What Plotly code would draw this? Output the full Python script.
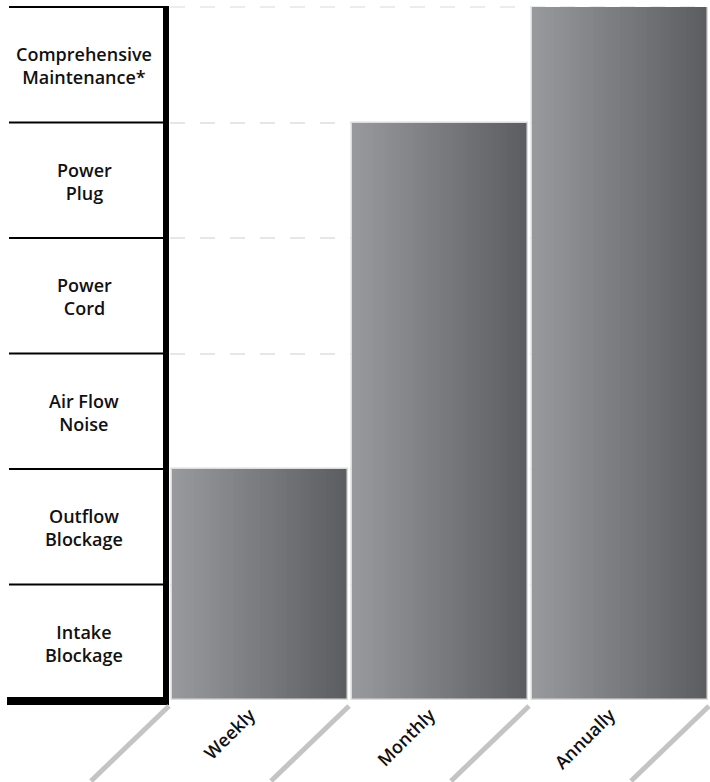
import plotly.graph_objects as go

# ---- data ----
frequencies = ["Weekly", "Monthly", "Annually"]
levels_reached = [2, 5, 6]
issue_labels = [
    "Intake<br>Blockage",
    "Outflow<br>Blockage",
    "Air Flow<br>Noise",
    "Power<br>Cord",
    "Power<br>Plug",
    "Comprehensive<br>Maintenance*",
]

FONT = "Open Sans"
WEIGHT = 600
N = 48
bar_w = 0.975
c_left = (152, 153, 157)
c_right = (92, 93, 97)

fig = go.Figure()
step = bar_w / N
for i in range(N):
    t = i / (N - 1)
    c = tuple(round(a + (b - a) * t) for a, b in zip(c_left, c_right))
    w = step if i == N - 1 else step * 1.6
    fig.add_trace(go.Bar(
        x=frequencies, y=levels_reached,
        width=w, offset=-bar_w / 2 + i * step,
        marker=dict(color="rgb(%d,%d,%d)" % c, line=dict(width=0)),
        hoverinfo="skip", showlegend=False,
    ))
# light border around each bar
fig.add_trace(go.Bar(
    x=frequencies, y=levels_reached, width=bar_w, offset=-bar_w / 2,
    marker=dict(color="rgba(0,0,0,0)", line=dict(color="#dcdcdc", width=1.5)),
    hoverinfo="skip", showlegend=False,
))

n_levels = len(issue_labels)
shapes = []
# dashed grid line at the top level (range edge is not drawn by the axis grid)
shapes.append(dict(type="line", xref="paper", x0=0, x1=1, yref="paper", y0=1, y1=1,
                   layer="below", line=dict(color="#e6e6e6", width=1.5, dash="15px,15px")))
# horizontal separators of the label column
for lv in range(n_levels + 1):
    shapes.append(dict(type="line", xref="paper", xsizemode="pixel", xanchor=0,
                       x0=-161, x1=-3, yref="paper", y0=lv / n_levels, y1=lv / n_levels,
                       line=dict(color="black", width=2)))
# thick vertical axis line
shapes.append(dict(type="line", xref="paper", xsizemode="pixel", xanchor=0,
                   x0=-4, x1=-4, yref="paper", ysizemode="pixel", yanchor=0,
                   y0=-1, y1=694, line=dict(color="black", width=6)))
# thick bottom line
shapes.append(dict(type="line", xref="paper", xsizemode="pixel", xanchor=0,
                   x0=-163, x1=-1, yref="paper", ysizemode="pixel", yanchor=0,
                   y0=-1, y1=-1, line=dict(color="black", width=8)))
# diagonal separators under the category axis
n_cat = len(frequencies)
for k in range(n_cat + 1):
    shapes.append(dict(type="line", xref="paper", xsizemode="pixel", xanchor=k / n_cat,
                       x0=-1, x1=-79, yref="paper", ysizemode="pixel", yanchor=0,
                       y0=-6, y1=-81, line=dict(color="#c4c4c4", width=5)))

annotations = []
for lv, lab in enumerate(issue_labels):
    annotations.append(dict(text=lab, xref="paper", x=0, xshift=-86, xanchor="center",
                            yref="paper", y=(lv + 0.5) / n_levels, yanchor="middle",
                            yshift=-1,
                            showarrow=False, align="center",
                            font=dict(family=FONT, size=18, weight=WEIGHT, color="#111111")))

fig.update_layout(
    width=710, height=782,
    margin=dict(l=170, r=0, t=7, b=82),
    paper_bgcolor="white", plot_bgcolor="white",
    barmode="overlay", bargap=0,
    showlegend=False,
    shapes=shapes, annotations=annotations,
    xaxis=dict(type="category", range=[-0.5, n_cat - 0.5], tickangle=-45,
               tickfont=dict(family=FONT, size=18, weight=WEIGHT, color="#111111"),
               ticklabelshift=-10,
               showline=False, showgrid=False, zeroline=False, ticks=""),
    yaxis=dict(range=[0, n_levels], dtick=1, showticklabels=False, ticks="",
               showgrid=True, gridcolor="#e6e6e6", gridwidth=1.5, griddash="15px,15px",
               zeroline=False, showline=False),
)

fig.write_html("out.html", config={"displayModeBar": False},
               post_script="document.body.style.margin='0';document.body.style.overflow='hidden';")
